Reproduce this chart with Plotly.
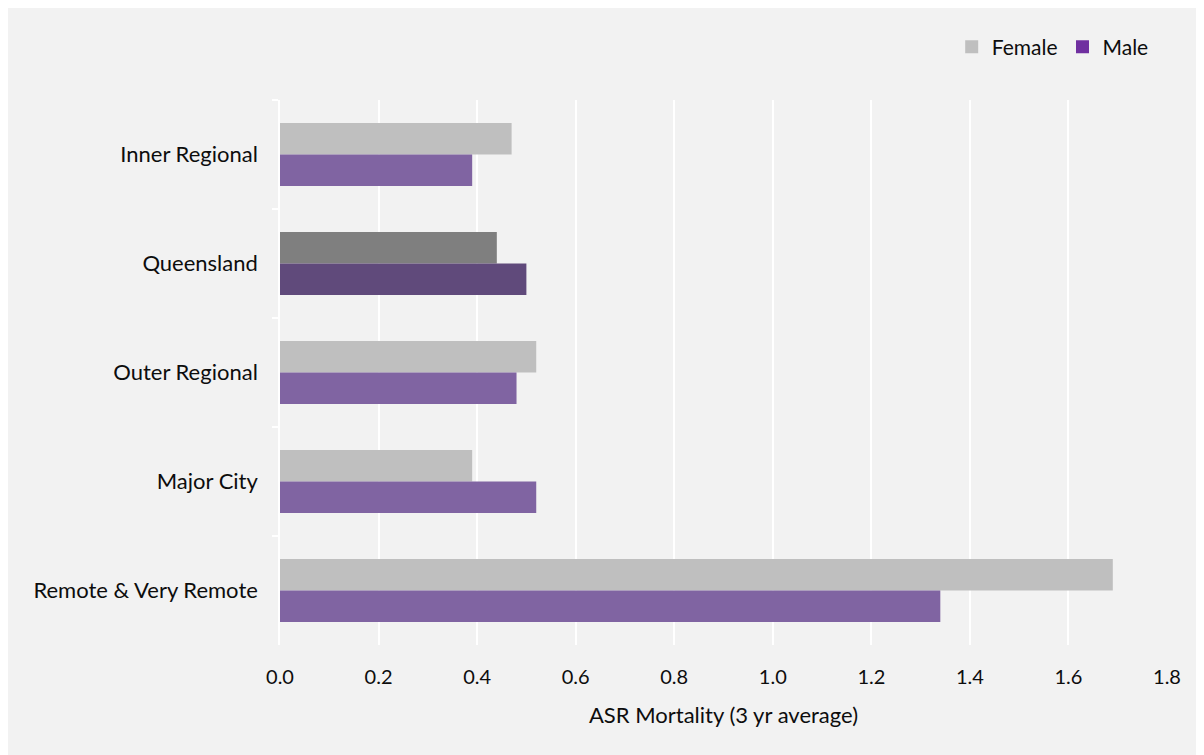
import plotly.graph_objects as go

categories = ["Inner Regional", "Queensland", "Outer Regional", "Major City", "Remote & Very Remote"]
female = [0.47, 0.44, 0.52, 0.39, 1.69]
male = [0.39, 0.50, 0.48, 0.52, 1.34]

female_colors = ["#7f7f7f" if c == "Queensland" else "#bfbfbf" for c in categories]
male_colors = ["#604a7b" if c == "Queensland" else "#8064a2" for c in categories]

x_ticks = [0.0, 0.2, 0.4, 0.6, 0.8, 1.0, 1.2, 1.4, 1.6, 1.8]
x_tick_labels = [f"{v:.1f}" for v in x_ticks]

FONT = "Lato"

fig = go.Figure()
fig.add_trace(go.Bar(y=categories, x=female, orientation="h", name="Female",
                     marker=dict(color=female_colors, line=dict(width=0)), showlegend=False))
fig.add_trace(go.Bar(y=categories, x=male, orientation="h", name="Male",
                     marker=dict(color=male_colors, line=dict(width=0)), showlegend=False))
# legend entries
fig.add_trace(go.Scatter(x=[None], y=[None], mode="markers", name="Female",
                         marker=dict(symbol="square", size=13, color="#bfbfbf")))
fig.add_trace(go.Scatter(x=[None], y=[None], mode="markers", name="Male",
                         marker=dict(symbol="square", size=13, color="#7030a0")))

fig.update_layout(
    width=1196, height=747,
    paper_bgcolor="#f2f2f2", plot_bgcolor="#f2f2f2",
    margin=dict(l=272, r=37, t=92, b=110),
    barmode="group", bargap=0.42, bargroupgap=0,
    font=dict(family=FONT, size=21, color="#0d0d0d"),
    legend=dict(orientation="h", x=0.985, xanchor="right", y=1.097, yanchor="middle",
                font=dict(size=21), itemwidth=30, bgcolor="rgba(0,0,0,0)"),
    xaxis=dict(range=[0, 1.8], tickvals=x_ticks, ticktext=x_tick_labels,
               showgrid=True, gridcolor="#ffffff", gridwidth=1.5, zeroline=False,
               showline=False, ticks="", tickfont=dict(size=20), ticklabelstandoff=18,
               title=dict(text="ASR Mortality (3 yr average)", font=dict(size=22), standoff=20)),
    yaxis=dict(categoryorder="array", categoryarray=categories, autorange="reversed",
               showgrid=False, showline=True, linecolor="#ffffff", linewidth=1.5,
               ticks="outside", tickson="boundaries", ticklen=6, tickcolor="#ffffff",
               tickwidth=1.5, tickfont=dict(size=22), ticklabelstandoff=16),
)

fig.write_html("out.html")
